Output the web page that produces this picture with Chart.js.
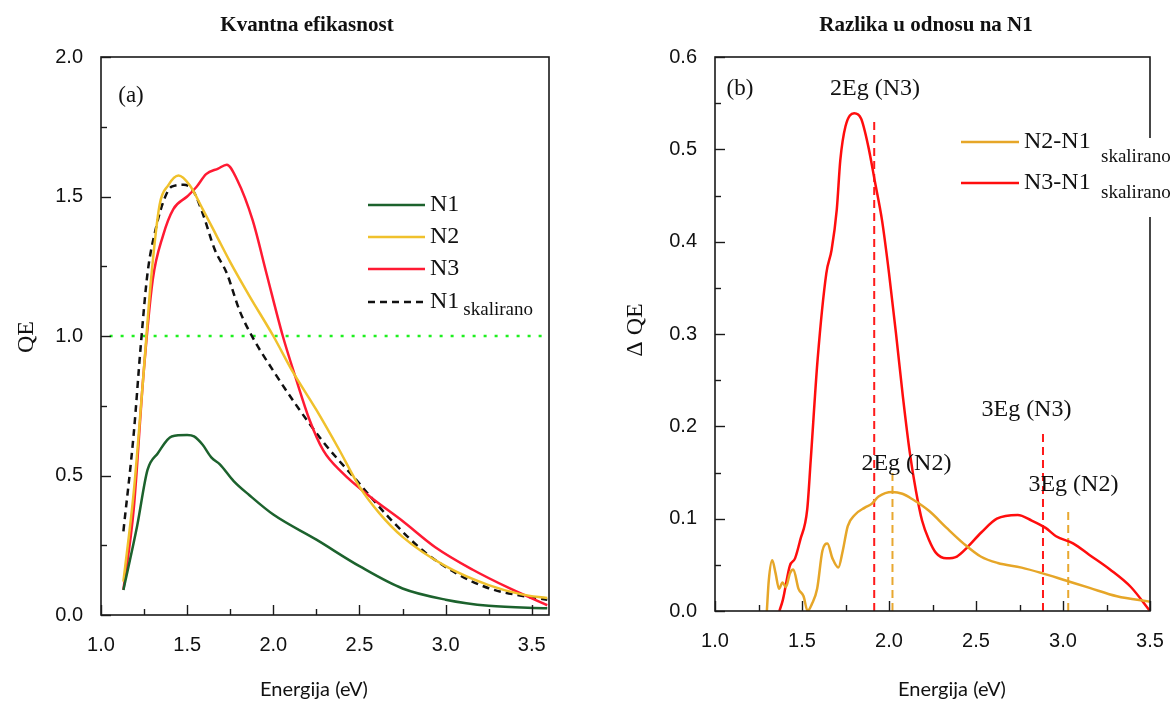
<!DOCTYPE html>
<html>
<head>
<meta charset="utf-8">
<title>Kvantna efikasnost</title>
<script src="https://cdn.jsdelivr.net/npm/chart.js@4.4.0/dist/chart.umd.min.js"></script>
<style>
  body { margin: 0; background: #fff; }
  #wrap { position: relative; width: 1175px; height: 701px; }
  canvas { position: absolute; top: 0; }
</style>
</head>
<body>
<div id="wrap">
  <canvas id="qe" width="590" height="701" style="left:0"></canvas>
  <canvas id="dqe" width="585" height="701" style="left:590px"></canvas>
</div>
<script>
// (a) kvantna efikasnost
const n1Energy = [1.13, 1.21, 1.27, 1.33, 1.41, 1.50, 1.54, 1.59, 1.64, 1.69, 1.77, 1.86, 2.00, 2.25, 2.50, 2.75, 3.00, 3.25, 3.59];
const n1QE     = [0.09, 0.32, 0.52, 0.58, 0.64, 0.645, 0.64, 0.61, 0.565, 0.54, 0.48, 0.43, 0.36, 0.27, 0.175, 0.095, 0.055, 0.033, 0.024];

const n2Energy = [1.13, 1.19, 1.245, 1.29, 1.34, 1.39, 1.45, 1.515, 1.59, 1.67, 1.75, 1.86, 2.00, 2.11, 2.25, 2.38, 2.50, 2.615, 2.75, 3.00, 3.25, 3.44, 3.59];
const n2QE     = [0.12, 0.44, 0.85, 1.20, 1.47, 1.54, 1.575, 1.54, 1.455, 1.36, 1.265, 1.145, 1.00, 0.875, 0.735, 0.595, 0.46, 0.365, 0.28, 0.175, 0.107, 0.074, 0.061];

const n3Energy = [1.13, 1.19, 1.245, 1.30, 1.36, 1.42, 1.50, 1.555, 1.61, 1.68, 1.73, 1.79, 1.88, 1.96, 2.055, 2.13, 2.21, 2.29, 2.40, 2.56, 2.75, 2.94, 3.155, 3.37, 3.59];
const n3QE     = [0.09, 0.38, 0.85, 1.20, 1.36, 1.455, 1.50, 1.535, 1.58, 1.60, 1.614, 1.56, 1.415, 1.225, 1.00, 0.85, 0.70, 0.59, 0.51, 0.425, 0.337, 0.243, 0.163, 0.096, 0.035];

const n1sEnergy = [1.13, 1.19, 1.23, 1.27, 1.32, 1.37, 1.41, 1.48, 1.535, 1.59, 1.66, 1.73, 1.805, 1.88, 2.00, 2.13, 2.29, 2.48, 2.67, 2.87, 3.06, 3.25, 3.44, 3.59];
const n1sQE     = [0.30, 0.65, 0.96, 1.225, 1.39, 1.495, 1.535, 1.542, 1.52, 1.44, 1.31, 1.225, 1.09, 0.995, 0.875, 0.755, 0.62, 0.485, 0.35, 0.23, 0.15, 0.096, 0.069, 0.055];

const refEnergy = [1.05, 3.6];
const refQE     = [1.0, 1.0];

// (b) razlika u odnosu na N1
const d2Energy = [1.298, 1.309, 1.329, 1.348, 1.368, 1.388, 1.407, 1.431, 1.45, 1.48, 1.509, 1.532, 1.558, 1.587, 1.617, 1.646, 1.675, 1.709, 1.734, 1.763, 1.803, 1.861, 1.90, 1.94, 2.018, 2.077, 2.135, 2.233, 2.331, 2.429, 2.527, 2.625, 2.762, 2.879, 3.016, 3.153, 3.31, 3.5];
const d2QE     = [0.0, 0.033, 0.055, 0.041, 0.024, 0.031, 0.026, 0.041, 0.045, 0.024, 0.016, 0.0, 0.008, 0.024, 0.065, 0.073, 0.057, 0.047, 0.065, 0.092, 0.104, 0.112, 0.116, 0.124, 0.129, 0.127, 0.121, 0.108, 0.09, 0.073, 0.059, 0.052, 0.047, 0.041, 0.033, 0.025, 0.016, 0.01];

const d3Energy = [1.37, 1.39, 1.43, 1.46, 1.49, 1.53, 1.55, 1.59, 1.64, 1.67, 1.70, 1.72, 1.75, 1.80, 1.84, 1.88, 1.92, 1.96, 2.00, 2.04, 2.08, 2.12, 2.155, 2.19, 2.23, 2.27, 2.33, 2.39, 2.45, 2.53, 2.62, 2.74, 2.82, 2.90, 2.96, 3.06, 3.15, 3.27, 3.39, 3.5];
const d3QE     = [0.0, 0.012, 0.049, 0.057, 0.077, 0.11, 0.163, 0.273, 0.366, 0.391, 0.435, 0.488, 0.525, 0.539, 0.533, 0.504, 0.464, 0.423, 0.366, 0.301, 0.232, 0.171, 0.13, 0.098, 0.077, 0.063, 0.057, 0.059, 0.069, 0.085, 0.10, 0.104, 0.098, 0.09, 0.081, 0.073, 0.061, 0.045, 0.026, 0.0];

// vertikalne oznake nEg
const markerLabels = ['2Eg (N3)', '2Eg (N2)', '3Eg (N3)', '3Eg (N2)'];
const markerEnergy = [1.915, 2.02, 2.885, 3.03];
const markerTop    = [0.535, 0.15, 0.197, 0.108];
const markerColor  = ['#ff1a1a', '#e8a830', '#ff1a1a', '#e8a830'];
// položaj teksta oznake (energija, ΔQE)
const labelEnergy  = [1.92, 2.10, 2.79, 3.06];
const labelQE      = [0.566, 0.160, 0.218, 0.137];

const serif = '"Liberation Serif", "Times New Roman", serif';
Chart.defaults.font.family = '"Liberation Sans", Arial, sans-serif';
Chart.defaults.color = '#111';

const pts = (xs, ys) => xs.map((x, i) => ({ x, y: ys[i] }));
const fmt1 = v => Number(v).toFixed(1);

// okvir + unutrašnji tickovi (major i minor)
const frame = {
  id: 'frame',
  afterDatasetsDraw(chart, args, o) {
    const { ctx, chartArea: a, scales: { x, y } } = chart;
    ctx.save();
    ctx.strokeStyle = '#1a1a1a';
    ctx.lineWidth = 1.6;
    ctx.strokeRect(a.left, a.top, a.right - a.left, a.bottom - a.top);
    ctx.lineWidth = 1.4;
    const isMajor = (v, step) => Math.abs(v / step - Math.round(v / step)) < 1e-6;
    for (let i = 0; ; i++) {
      const v = x.min + i * o.xMinor;
      if (v > x.max + 1e-9) break;
      const px = Math.round(x.getPixelForValue(v)) + 0.5;
      const len = isMajor(v, o.xMajor) ? 10 : 6;
      ctx.beginPath(); ctx.moveTo(px, a.bottom); ctx.lineTo(px, a.bottom - len); ctx.stroke();
    }
    for (let i = 0; ; i++) {
      const v = y.min + i * o.yMinor;
      if (v > y.max + 1e-9) break;
      const py = Math.round(y.getPixelForValue(v)) + 0.5;
      const len = isMajor(v, o.yMajor) ? 10 : 6;
      ctx.beginPath(); ctx.moveTo(a.left, py); ctx.lineTo(a.left + len, py); ctx.stroke();
    }
    ctx.restore();
  }
};

// naslovi, oznake osa, legenda
const texts = {
  id: 'texts',
  afterDraw(chart, args, o) {
    const { ctx, scales: { x, y } } = chart;
    ctx.save();
    ctx.fillStyle = '#111';
    ctx.textAlign = 'center';
    ctx.textBaseline = 'middle';
    ctx.font = 'bold 21px ' + serif;
    ctx.fillText(o.title, o.titleX, 26);
    ctx.font = '23px ' + serif;
    ctx.fillText(o.panel, o.panelX, o.panelY);
    ctx.font = '20px Lato, "Open Sans", sans-serif';
    ctx.fillText('Energija (eV)', o.xTitleX, 690);
    ctx.save();
    ctx.translate(o.yTitleX, o.yTitleY);
    ctx.rotate(-Math.PI / 2);
    ctx.font = '24px ' + serif;
    ctx.fillText(o.yTitle, 0, 0);
    ctx.restore();

    // anotacije nEg
    if (o.markers) {
      ctx.font = '24px ' + serif;
      markerLabels.forEach((t, i) => {
        ctx.fillText(t, x.getPixelForValue(labelEnergy[i]), y.getPixelForValue(labelQE[i]));
      });
    }

    // legenda
    const L = o.legend;
    if (L.bg) {
      ctx.fillStyle = '#fff';
      ctx.fillRect(L.bg[0], L.bg[1], L.bg[2], L.bg[3]);
    }
    ctx.textAlign = 'left';
    L.items.forEach((it, i) => {
      const ds = chart.data.datasets[it.ds];
      const ly = L.rows[i];
      ctx.strokeStyle = ds.borderColor;
      ctx.lineWidth = ds.borderWidth;
      ctx.setLineDash(ds.borderDash || []);
      ctx.beginPath(); ctx.moveTo(L.x0, ly); ctx.lineTo(L.x1, ly); ctx.stroke();
      ctx.setLineDash([]);
      ctx.fillStyle = '#111';
      ctx.font = '24px ' + serif;
      ctx.fillText(it.text, L.tx, ly);
      if (it.sub) {
        const w = ctx.measureText(it.text).width;
        ctx.font = '19px ' + serif;
        ctx.fillText(it.sub, L.subX != null ? L.subX : L.tx + w + 4, ly + L.subDy[i]);
      }
    });
    ctx.restore();
  }
};

function lineDs(label, xs, ys, color, extra) {
  return Object.assign({
    label, data: pts(xs, ys), borderColor: color, borderWidth: 2.5,
    pointRadius: 0, fill: false, cubicInterpolationMode: 'monotone'
  }, extra || {});
}

function axes(xMax, yMax, yStep, yWidth, xHeight) {
  return {
    x: {
      type: 'linear', min: 1.0, max: xMax,
      grid: { display: false }, border: { display: false },
      ticks: { stepSize: 0.5, includeBounds: false, autoSkip: false, maxRotation: 0,
               padding: 10, font: { size: 20 }, callback: fmt1 },
      afterFit: s => { s.height = xHeight; }
    },
    y: {
      type: 'linear', min: 0, max: yMax,
      grid: { display: false }, border: { display: false },
      ticks: { stepSize: yStep, includeBounds: false, autoSkip: false,
               padding: 10, font: { size: 20 }, callback: fmt1 },
      afterFit: s => { s.width = yWidth; }
    }
  };
}

new Chart(document.getElementById('qe'), {
  type: 'line',
  data: {
    datasets: [
      lineDs('N1', n1Energy, n1QE, '#1c622d'),
      lineDs('N2', n2Energy, n2QE, '#f0c12c'),
      lineDs('N3', n3Energy, n3QE, '#ff1a33'),
      lineDs('N1 skalirano', n1sEnergy, n1sQE, '#111', { borderDash: [7, 5] }),
      lineDs('QE = 1', refEnergy, refQE, '#1ef01e', { borderDash: [3, 8] })
    ]
  },
  options: {
    responsive: false, animation: false,
    layout: { padding: { left: 0, top: 57, right: 41, bottom: 0 } },
    plugins: {
      legend: { display: false }, tooltip: { enabled: false },
      frame: { xMinor: 0.25, xMajor: 0.5, yMinor: 0.25, yMajor: 0.5 },
      texts: {
        title: 'Kvantna efikasnost', titleX: 307,
        panel: '(a)', panelX: 131, panelY: 96,
        xTitleX: 314, yTitle: 'QE', yTitleX: 27, yTitleY: 337,
        legend: {
          x0: 368, x1: 425, tx: 430,
          rows: [205, 237, 269, 302], subDy: [0, 0, 0, 8],
          items: [
            { ds: 0, text: 'N1' }, { ds: 1, text: 'N2' },
            { ds: 2, text: 'N3' }, { ds: 3, text: 'N1', sub: 'skalirano' }
          ]
        }
      }
    },
    scales: axes(3.6, 2.0, 0.5, 101, 86)
  },
  plugins: [frame, texts]
});

const markerSets = markerEnergy.map((e, i) =>
  lineDs(markerLabels[i], [e, e], [0, markerTop[i]], markerColor[i],
         { borderDash: [8, 5], borderWidth: 2, cubicInterpolationMode: 'default', tension: 0 }));

new Chart(document.getElementById('dqe'), {
  type: 'line',
  data: {
    datasets: [
      lineDs('N2-N1 skalirano', d2Energy, d2QE, '#e6a628'),
      lineDs('N3-N1 skalirano', d3Energy, d3QE, '#ff0d0d'),
      ...markerSets
    ]
  },
  options: {
    responsive: false, animation: false,
    layout: { padding: { left: 0, top: 57, right: 25, bottom: 0 } },
    plugins: {
      legend: { display: false }, tooltip: { enabled: false },
      frame: { xMinor: 0.25, xMajor: 0.5, yMinor: 0.05, yMajor: 0.1 },
      texts: {
        title: 'Razlika u odnosu na N1', titleX: 336,
        panel: '(b)', panelX: 150, panelY: 89,
        xTitleX: 362, yTitle: '\u0394 QE', yTitleX: 46, yTitleY: 330,
        markers: true,
        legend: {
          bg: [500, 138, 85, 79],
          x0: 371, x1: 429, tx: 434, subX: 511,
          rows: [142, 183], subDy: [15, 10],
          items: [
            { ds: 0, text: 'N2-N1', sub: 'skalirano' },
            { ds: 1, text: 'N3-N1', sub: 'skalirano' }
          ]
        }
      }
    },
    scales: axes(3.5, 0.6, 0.1, 125, 90)
  },
  plugins: [frame, texts]
});
</script>
</body>
</html>
